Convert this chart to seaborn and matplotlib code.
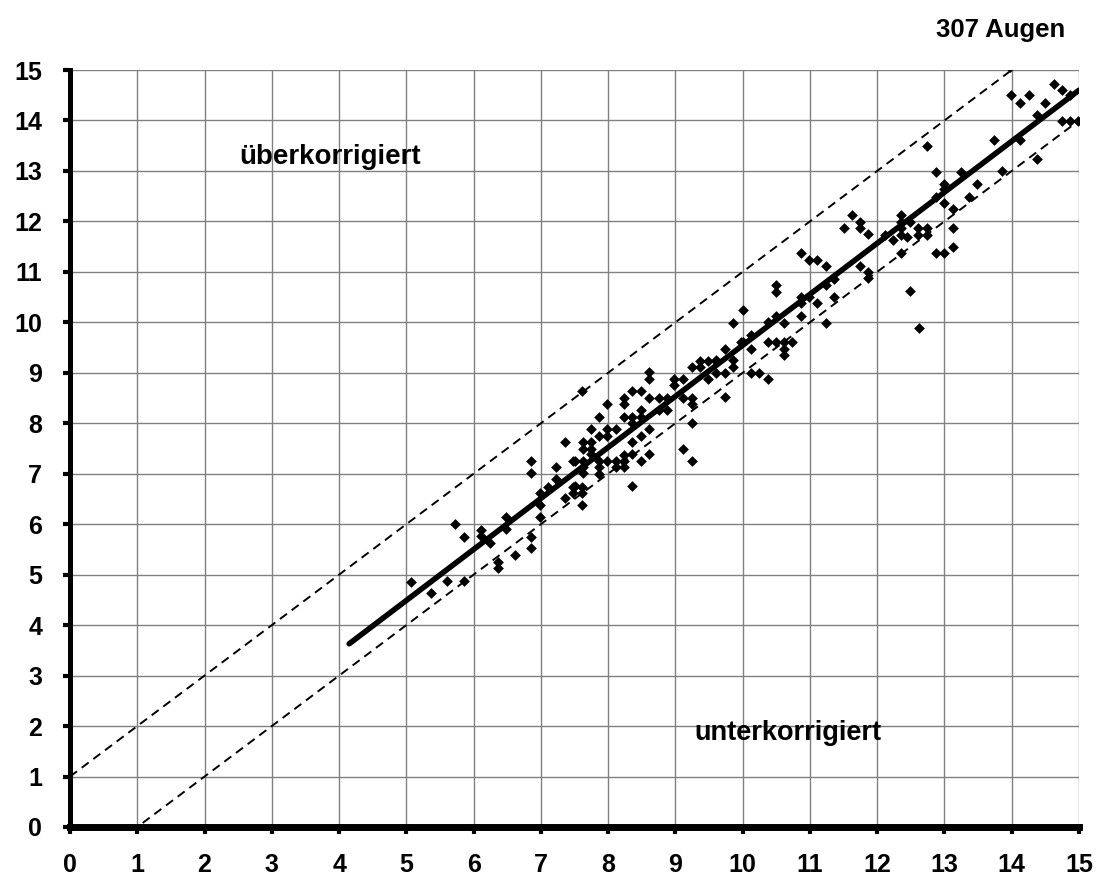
import matplotlib
matplotlib.use("Agg")
import matplotlib.pyplot as plt
import seaborn as sns
import numpy as np
import pandas as pd

# ---- data ----
pts_x = [
    5.07, 5.36, 5.61, 5.86, 5.73, 5.86, 6.11, 6.11, 6.24, 6.36, 6.36, 6.48, 6.48, 6.62,
    6.86, 6.86, 6.99, 6.99, 6.99, 7.11, 6.86, 6.86, 7.23, 7.23, 7.36, 7.36, 7.48, 7.48,
    7.61, 7.48, 7.61, 7.61, 7.50, 7.62, 7.62, 7.62, 7.50, 7.62, 7.74, 7.74, 7.62, 7.74,
    7.74, 7.61,
    7.87, 7.99, 7.99, 8.12, 7.87, 7.99, 8.24, 8.24, 8.36, 8.49, 8.61, 8.61, 8.61, 8.75,
    8.87, 8.98, 8.98, 9.12, 9.24, 9.37, 9.49, 9.61, 9.37, 9.49, 9.24, 9.24, 9.12, 8.75,
    8.87, 8.49, 8.24, 8.36, 8.49, 8.36, 8.61, 8.49, 8.36, 8.61, 8.49, 8.36, 8.24, 8.24,
    8.12, 8.12, 7.99, 7.87, 7.87, 7.87, 8.36, 9.12, 9.24, 9.24, 8.24,
    9.61, 9.74, 9.74, 9.61, 9.86, 9.86, 9.74, 10.00, 10.12, 10.12, 9.86, 10.00, 10.12,
    10.25, 10.37, 10.37, 10.50, 10.62, 10.74, 10.62, 10.62, 10.37, 10.50, 10.62, 10.50,
    10.50, 10.87, 9.98,
    10.87, 10.99, 11.11, 11.24, 11.36, 11.24, 10.87, 10.99, 10.87, 11.11, 11.36, 11.24,
    11.62, 11.74, 11.74, 11.50, 11.87, 11.74, 11.87, 11.87,
    12.12, 12.24, 12.36, 12.36, 12.49, 12.36, 12.36, 12.61, 12.74, 12.61, 12.74, 12.36,
    12.45, 12.87, 12.99, 12.49, 12.62, 12.87, 12.74, 12.87, 12.99, 12.99, 12.99, 13.12,
    13.12, 13.12, 13.25,
    13.37, 13.49, 13.74, 13.86, 14.12, 14.37, 13.99, 14.12, 14.25, 14.37, 14.49, 14.63,
    14.74, 14.87, 14.74, 14.87, 14.99, 13.98,
]
pts_y = [
    4.85, 4.63, 4.88, 4.88, 6.00, 5.75, 5.88, 5.77, 5.63, 5.26, 5.13, 6.14, 5.90, 5.39,
    5.75, 5.52, 6.61, 6.38, 6.14, 6.74, 7.25, 7.02, 7.13, 6.89, 7.62, 6.51, 7.25, 6.74,
    6.74, 6.62, 6.62, 6.38, 7.26, 7.26, 7.14, 7.02, 6.76, 7.63, 7.63, 7.50, 7.50, 7.39,
    7.88, 8.63,
    7.75, 7.75, 7.88, 7.88, 8.13, 8.38, 8.38, 8.51, 8.63, 8.63, 9.01, 8.88, 8.51, 8.51,
    8.51, 8.88, 8.75, 8.88, 9.12, 9.24, 9.24, 9.24, 9.12, 8.88, 8.51, 8.38, 8.51, 8.26,
    8.26, 8.26, 8.13, 8.13, 8.13, 8.01, 7.88, 7.75, 7.63, 7.39, 7.26, 7.39, 7.26, 7.14,
    7.26, 7.14, 7.26, 7.14, 7.26, 7.00, 6.76, 7.50, 7.26, 8.01, 7.37,
    8.99, 8.99, 8.53, 9.25, 9.25, 9.12, 9.48, 9.62, 9.75, 9.48, 9.99, 10.24, 8.99,
    8.99, 8.87, 9.62, 9.62, 9.62, 9.62, 9.48, 9.35, 10.01, 10.12, 9.99, 10.74,
    10.61, 10.12, 9.62,
    11.37, 11.23, 11.23, 11.12, 10.85, 10.74, 10.51, 10.51, 10.38, 10.38, 10.51, 9.99,
    12.13, 11.99, 11.86, 11.86, 11.75, 11.12, 11.00, 10.88,
    11.73, 11.63, 12.13, 11.99, 11.99, 11.86, 11.73, 11.86, 11.86, 11.74, 11.74, 11.37,
    11.70, 11.38, 11.38, 10.62, 9.88, 12.49, 13.49, 12.98, 12.75, 12.64, 12.37, 12.24,
    11.86, 11.50, 12.98,
    12.49, 12.75, 13.61, 13.00, 13.61, 13.23, 14.50, 14.35, 14.50, 14.11, 14.35, 14.73,
    14.60, 14.50, 13.98, 13.98, 13.98, 15.05,
]
fit_x = [4.15, 15.0]
fit_y = [3.63, 14.60]
upper_x = [0.0, 14.0]
upper_y = [1.0, 15.0]
lower_x = [1.08, 15.0]
lower_y = [0.08, 14.0]
ticks = list(range(0, 16))
label_over = "überkorrigiert"
label_under = "unterkorrigiert"
label_count = "307 Augen"

# ---- figure ----
sns.set_theme(style="white", rc={"text.color": "black", "xtick.color": "black",
                                 "ytick.color": "black", "axes.labelcolor": "black"})
plt.rcParams["font.family"] = ["Liberation Sans", "DejaVu Sans"]

fig = plt.figure(figsize=(11.01, 8.81), dpi=100)
ax = fig.add_axes([70 / 1101, 1 - 827 / 881, (1079 - 70) / 1101, (827 - 70) / 881])

df = pd.DataFrame({"x": pts_x, "y": pts_y})
sns.scatterplot(data=df, x="x", y="y", marker="D", s=30, color="black",
                edgecolor="black", linewidth=0, ax=ax, zorder=4)
for coll in ax.collections:
    coll.set_clip_on(True)

sns.lineplot(x=upper_x, y=upper_y, ax=ax, color="black", lw=1.4,
             linestyle=(0, (4.5, 3)), zorder=3)
sns.lineplot(x=lower_x, y=lower_y, ax=ax, color="black", lw=1.4,
             linestyle=(0, (4.5, 3)), zorder=3)
sns.lineplot(x=fit_x, y=fit_y, ax=ax, color="black", lw=4.0, zorder=5,
             solid_capstyle="round")

ax.set_xlim(0, 15)
ax.set_ylim(0, 15)
ax.set_xticks(ticks)
ax.set_yticks(ticks)
ax.set_xticklabels([str(t) for t in ticks], fontsize=18, fontweight="bold")
ax.set_yticklabels([str(t) for t in ticks], fontsize=18, fontweight="bold")
ax.set_xlabel("")
ax.set_ylabel("")

ax.grid(True, color="#808080", linewidth=1.0)
ax.set_axisbelow(True)
for s in ["top", "right"]:
    ax.spines[s].set_visible(False)
ax.spines["bottom"].set_linewidth(5.0)
ax.spines["left"].set_linewidth(3.6)
ax.spines["bottom"].set_color("black")
ax.spines["left"].set_color("black")
ax.spines["bottom"].set_zorder(6)
ax.spines["left"].set_zorder(6)
ax.tick_params(axis="both", direction="out", length=5, width=3, color="black",
               bottom=True, left=True)
ax.tick_params(axis="x", pad=14)
ax.tick_params(axis="y", pad=15)

ax.text(3.87, 13.27, label_over, fontsize=20, fontweight="bold",
        ha="center", va="center")
ax.text(10.67, 1.86, label_under, fontsize=19.5, fontweight="bold",
        ha="center", va="center")
fig.text(1001 / 1101, 1 - 30 / 881, label_count, fontsize=18.5, fontweight="bold",
         ha="center", va="center")

fig.savefig("out.png", dpi=100)
